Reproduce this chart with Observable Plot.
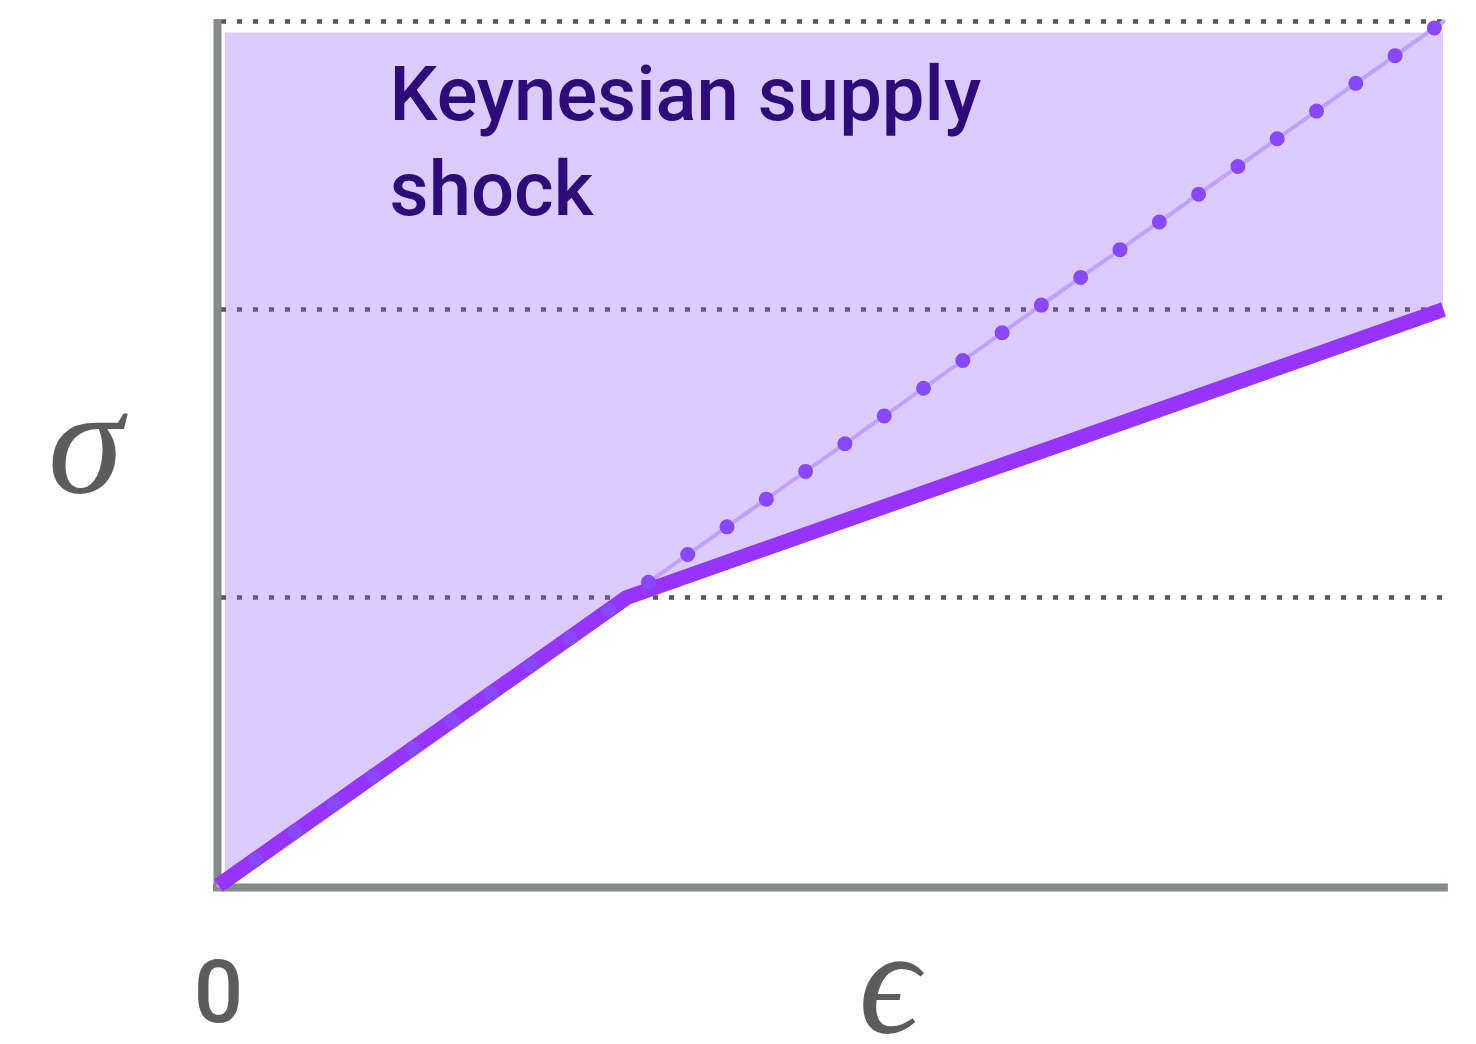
<!DOCTYPE html>
<html><head><meta charset="utf-8">
<script src="https://cdn.jsdelivr.net/npm/d3@7"></script>
<script src="https://cdn.jsdelivr.net/npm/@observablehq/plot@0.6"></script>
<style>html,body{margin:0;padding:0;background:#fff} svg{display:block}</style>
</head><body><div id="chart"></div>
<script>
// Kinked supply boundary
const kinkX = [0, 1, 3];
const kinkY = [0, 1, 2];
// Dotted 45-degree line
const diagX = [0, 3];
const diagY = [0, 3];
// Shaded region (bottom follows the kinked line, top is flat)
const fillX = [0.017, 1, 3];
const fillLow = [0.017, 1, 2];
const fillHigh = [2.96, 2.96, 2.96];
// Dotted gridlines
const gridY = [1, 2, 3];
// Tick labels
const xTicks = [0];
// Texts
const annotation = [{x: 0.419, y: 2.893, text: "Keynesian supply\nshock"}];
const yLabel = ["σ"];
const xLabel = ["ϵ"];

const kink = kinkX.map((x, i) => ({x, y: kinkY[i]}));
const diag = diagX.map((x, i) => ({x, y: diagY[i]}));
const region = fillX.map((x, i) => ({x, lo: fillLow[i], hi: fillHigh[i]}));

const chart = Plot.plot({
  width: 1476,
  height: 1044,
  marginLeft: 218,
  marginRight: 33,
  marginTop: 21,
  marginBottom: 159,
  x: {domain: [0, 3]},
  y: {domain: [0, 3], axis: null},
  style: {background: "#fff", overflow: "visible", fontFamily: "Roboto"},
  marks: [
    Plot.ruleY(gridY, {x1: 0, x2: 3, stroke: "#555555", strokeWidth: 4.5, strokeDasharray: "5 11", strokeDashoffset: -3}),
    Plot.areaY(region, {x: "x", y1: "lo", y2: "hi", fill: "#9664ff", fillOpacity: 0.335, curve: "linear"}),
    Plot.ruleX([0], {y1: -0.02, y2: 3.007, stroke: "#858a8a", strokeWidth: 8, dx: -1}),
    Plot.ruleY([0], {x1: -0.012, x2: 3.012, stroke: "#858a8a", strokeWidth: 8, dy: 2}),
    Plot.line(diag, {x: "x", y: "y", stroke: "#bfa2fe", strokeWidth: 4}),
    Plot.line(kink, {x: "x", y: "y", stroke: "#9535ff", strokeWidth: 15, strokeLinejoin: "round", strokeLinecap: "butt"}),
    Plot.line(diag, {x: "x", y: "y", stroke: "#8848fe", strokeWidth: 15, strokeLinecap: "round", strokeDasharray: "0 48.09", strokeDashoffset: 2.9}),
    Plot.axisX({ticks: xTicks, tickFormat: d => String(d), tickSize: 0, tickPadding: 75, fontSize: 87, fontWeight: 500, fill: "#5c5c5c", label: null, fontFamily: "Roboto"}),
    Plot.text(annotation, {x: "x", y: "y", text: "text", textAnchor: "start", lineAnchor: "top", lineHeight: 1.25, fontSize: 76, fontWeight: 500, fill: "#2e0b78", fontFamily: "Roboto"}),
    Plot.text(yLabel, {frameAnchor: "left", text: d => d, textAnchor: "middle", dx: -133, dy: -9, fontSize: 152, fontStyle: "italic", fontFamily: "Liberation Serif, DejaVu Serif, serif", fill: "#5c5c5c", lineAnchor: "middle"}),
    Plot.text(xLabel, {frameAnchor: "bottom", text: d => d, textAnchor: "middle", dx: 58, dy: 99, fontSize: 150, fontStyle: "italic", fontFamily: "Liberation Serif, DejaVu Serif, serif", fill: "#5c5c5c", lineAnchor: "middle"})
  ]
});
document.getElementById("chart").append(chart);
</script>
</body></html>
